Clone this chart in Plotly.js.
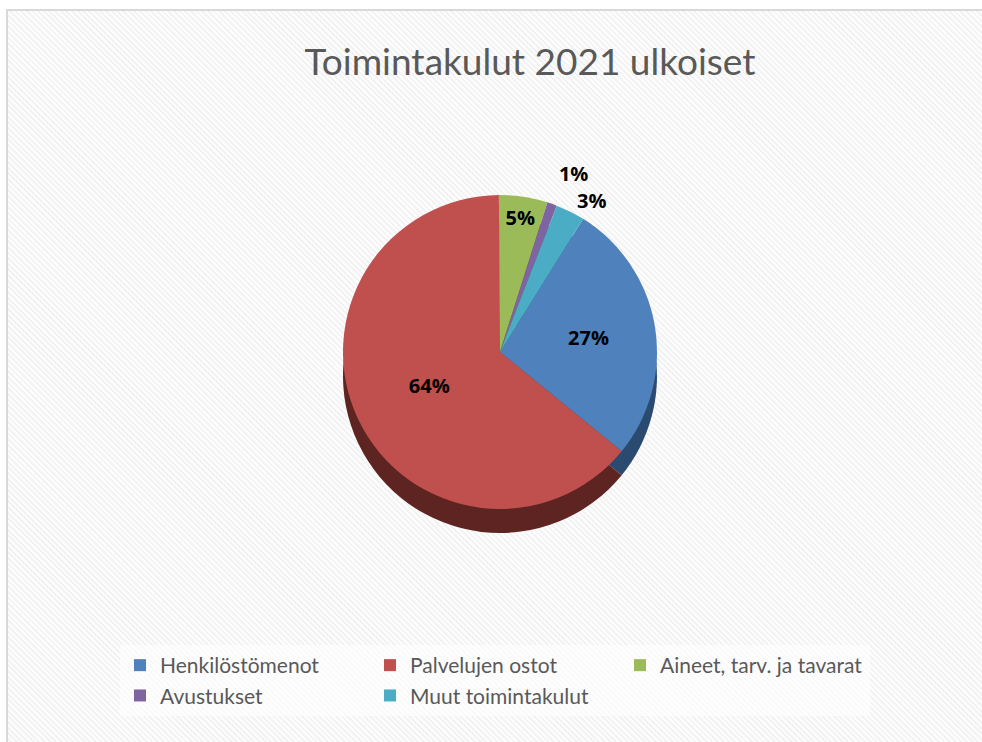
<!DOCTYPE html>
<html>
<head>
<meta charset="utf-8">
<script src="https://cdn.plot.ly/plotly-3.0.1.min.js"></script>
<style>
  html, body { margin: 0; padding: 0; background: #ffffff; width: 982px; height: 742px; overflow: hidden; }
  #frame {
    position: absolute; left: 6px; top: 9px; width: 980px; height: 735px;
    border-left: 2px solid #d9d9d9; border-top: 2px solid #d9d9d9;
    background: repeating-linear-gradient(45deg, #f3f3f3 0px, #f3f3f3 2px, #fdfdfd 2px, #fdfdfd 4px);
  }
  #chart { position: absolute; left: 0; top: 0; width: 982px; height: 742px; }
  #chart path.textline { display: none; }
</style>
</head>
<body>
<div id="frame"></div>
<div id="chart"></div>
<script>
const categories = ["Henkilöstömenot", "Palvelujen ostot", "Aineet, tarv. ja tavarat", "Avustukset", "Muut toimintakulut"];
const shares = [27, 64, 5, 1, 3];
const topColors = ["#4f81bd", "#c0504d", "#9bbb59", "#8064a2", "#4bacc6"];
const sideColors = ["#2b4a70", "#5e2422", "#4f6330", "#40305a", "#25606f"];
const labelPositions = ["inside", "inside", "inside", "outside", "outside"];

const W = 982, H = 742;
const cx = 500, cy = 352, r = 157, depth = 24;
function dom(centerY) {
  return {
    x: [(cx - r) / W, (cx + r) / W],
    y: [1 - (centerY + r) / H, 1 - (centerY - r) / H]
  };
}

const labelFont = { family: "Open Sans, sans-serif", size: 20, color: "#000000", weight: "bold" };

const sideTrace = {
  type: "pie",
  labels: categories,
  values: shares,
  sort: false,
  direction: "clockwise",
  rotation: 32,
  domain: dom(cy + depth),
  marker: { colors: sideColors, line: { width: 0 } },
  textinfo: "none",
  hoverinfo: "skip",
  showlegend: false
};

const faceTrace = {
  type: "pie",
  labels: categories,
  values: shares,
  sort: false,
  direction: "clockwise",
  rotation: 32,
  domain: dom(cy),
  marker: { colors: topColors, line: { width: 0 } },
  textinfo: "percent",
  texttemplate: "%{value}%",
  textposition: labelPositions,
  insidetextorientation: "horizontal",
  textfont: labelFont,
  insidetextfont: labelFont,
  outsidetextfont: labelFont,
  automargin: false
};

const layout = {
  width: W, height: H,
  margin: { l: 0, r: 0, t: 0, b: 0 },
  paper_bgcolor: "rgba(0,0,0,0)",
  plot_bgcolor: "rgba(0,0,0,0)",
  title: {
    text: "Toimintakulut 2021 ulkoiset",
    x: 530 / W, xanchor: "center",
    y: 1 - 62 / H, yanchor: "middle",
    font: { family: "Lato, sans-serif", size: 37, color: "#595959" }
  },
  showlegend: true,
  legend: {
    orientation: "h",
    x: 120 / W, xanchor: "left",
    y: 1 - 645 / H, yanchor: "top",
    entrywidth: 205, entrywidthmode: "pixels",
    traceorder: "normal",
    bgcolor: "rgba(255,255,255,0.6)",
    font: { family: "Lato, sans-serif", size: 21, color: "#595959" },
    itemwidth: 30
  }
};

Plotly.newPlot("chart", [sideTrace, faceTrace], layout, { displayModeBar: false, staticPlot: true });
</script>
</body>
</html>
